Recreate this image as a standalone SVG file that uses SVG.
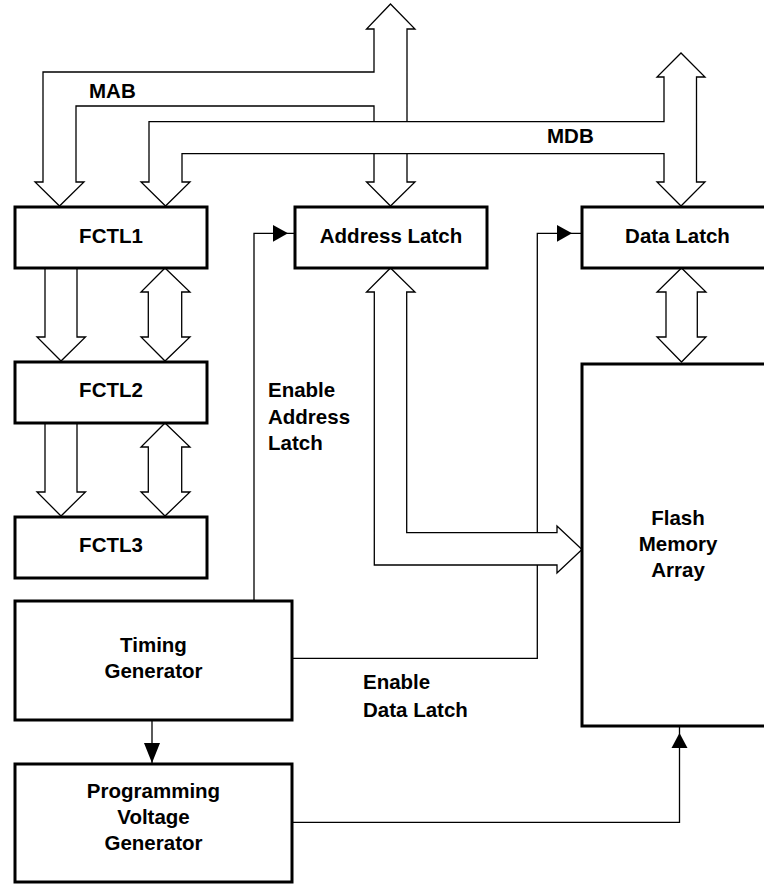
<svg xmlns="http://www.w3.org/2000/svg" width="764" height="884" viewBox="0 0 764 884">
<style>
.box{fill:#fff;stroke:#000;stroke-width:3;stroke-linejoin:miter}
.bus{fill:#fff;stroke:#000;stroke-width:1.3;stroke-linejoin:miter}
.ln{fill:none;stroke:#000;stroke-width:1.3}
.ah{fill:#000;stroke:none}
text{font-family:"Liberation Sans",Arial,Helvetica,sans-serif;font-weight:bold;font-size:20.5px;fill:#000}
.c{text-anchor:middle}
</style>
<rect width="764" height="884" fill="#fff"/>
<g id="connectors">
  <!-- MAB bus -->
  <polygon class="bus" points="390.5,4 415,29 407,29 407,182 415,182 390.5,206 366.5,182 374,182 374,106 76,106 76,182 84,182 59.5,206 35,182 43,182 43,72 374,72 374,29 366.5,29"/>
  <!-- MDB bus -->
  <polygon class="bus" points="149,121.7 664,121.7 664,77 657,77 681,53 705,77 696.5,77 696.5,182 705,182 681,206 657,182 664,182 664,153.7 182,153.7 182,182 190,182 165.5,206 141,182 149,182"/>
  <!-- FCTL1 -> FCTL2 -->
  <polygon class="bus" points="45,268 45,337 37,337 61,361 85.5,337 77,337 77,268"/>
  <polygon class="bus" points="165,268 190,292 181.7,292 181.7,337 190,337 165,361 141,337 148.3,337 148.3,292 141,292"/>
  <!-- FCTL2 -> FCTL3 -->
  <polygon class="bus" points="45,423 45,492 37,492 61,516 85.5,492 77,492 77,423"/>
  <polygon class="bus" points="165,423 190,447 181.7,447 181.7,492 190,492 165,516 141,492 148.3,492 148.3,447 141,447"/>
  <!-- Data Latch <-> Flash -->
  <polygon class="bus" points="681.5,268 706,292 697.3,292 697.3,337 706,337 681.5,362 657,337 666,337 666,292 657,292"/>
  <!-- Enable Address Latch -->
  <polyline class="ln" points="254,601 254,233.3 295,233.3"/>
  <polygon class="ah" points="273,225 288,233.3 273,241.7"/>
  <!-- Enable Data Latch -->
  <polyline class="ln" points="292,658.3 537.3,658.3 537.3,233.3 582,233.3"/>
  <polygon class="ah" points="557,225 572,233.3 557,241.7"/>
  <!-- Address Latch -> Flash -->
  <polygon class="bus" points="390.5,268 415,292 406.7,292 406.7,532.7 557,532.7 557,526 582,549.5 557,573 557,565 374.3,565 374.3,292 366.5,292"/>
  <!-- Timing -> PVG -->
  <line class="ln" x1="152" y1="720" x2="152" y2="764"/>
  <polygon class="ah" points="144,743 160,743 152,763"/>
  <!-- PVG -> Flash -->
  <polyline class="ln" points="292,822.3 679.5,822.3 679.5,726"/>
  <polygon class="ah" points="671.5,748 687.5,748 679.5,733"/>
</g>
<g id="labels">
  <text x="89" y="97.7">MAB</text>
  <text x="547" y="143.3">MDB</text>
  <text x="268" y="396.7">Enable</text>
  <text x="268" y="423.7">Address</text>
  <text x="268" y="450.3">Latch</text>
  <text x="363" y="689.3">Enable</text>
  <text x="363" y="716.7">Data Latch</text>
</g>
<g id="fctl1"><rect class="box" x="15" y="207" width="192" height="61"/><text class="c" x="111" y="242.7">FCTL1</text></g>
<g id="fctl2"><rect class="box" x="15" y="362" width="192" height="61"/><text class="c" x="111" y="396.7">FCTL2</text></g>
<g id="fctl3"><rect class="box" x="15" y="517" width="192" height="61"/><text class="c" x="111" y="551.7">FCTL3</text></g>
<g id="address-latch"><rect class="box" x="295" y="207" width="192" height="61"/><text class="c" x="391" y="242.7">Address Latch</text></g>
<g id="data-latch"><rect class="box" x="582" y="207" width="200" height="61"/><text class="c" x="677.5" y="242.7">Data Latch</text></g>
<g id="flash"><rect class="box" x="582" y="364" width="200" height="362"/><text class="c" x="678" y="525">Flash</text><text class="c" x="678" y="551">Memory</text><text class="c" x="678" y="577">Array</text></g>
<g id="timing"><rect class="box" x="15" y="601" width="277" height="119"/><text class="c" x="153.5" y="651.7">Timing</text><text class="c" x="153.5" y="677.7">Generator</text></g>
<g id="pvg"><rect class="box" x="15" y="764" width="277" height="118"/><text class="c" x="153.5" y="798.3">Programming</text><text class="c" x="153.5" y="824">Voltage</text><text class="c" x="153.5" y="850">Generator</text></g>
</svg>
